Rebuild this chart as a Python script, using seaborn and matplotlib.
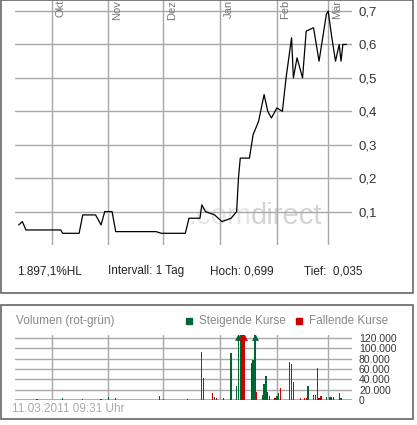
import numpy as np
import pandas as pd
import matplotlib
matplotlib.use('Agg')
import matplotlib.pyplot as plt
import matplotlib.dates as mdates
from matplotlib.patches import Rectangle
import seaborn as sns

sns.set_style('white')
plt.rcParams['font.family'] = ['Liberation Sans', 'DejaVu Sans']

# price series
price_dates = ['2010-09-13', '2010-09-15', '2010-09-17', '2010-10-06', '2010-10-07', '2010-10-16',
               '2010-10-18', '2010-10-25', '2010-10-28', '2010-10-30', '2010-11-03', '2010-11-05',
               '2010-11-27', '2010-11-30', '2010-12-13', '2010-12-15', '2010-12-21', '2010-12-22',
               '2010-12-24', '2010-12-29', '2011-01-02', '2011-01-07', '2011-01-10', '2011-01-11',
               '2011-01-12', '2011-01-17', '2011-01-19', '2011-01-22', '2011-01-25', '2011-01-27',
               '2011-01-29', '2011-02-01', '2011-02-04', '2011-02-06', '2011-02-09', '2011-02-10',
               '2011-02-12', '2011-02-15', '2011-02-17', '2011-02-21', '2011-02-24', '2011-02-28',
               '2011-03-01', '2011-03-03', '2011-03-05', '2011-03-07', '2011-03-08', '2011-03-09',
               '2011-03-11']
price_vals = [0.06, 0.07, 0.045, 0.045, 0.035, 0.035,
              0.09, 0.09, 0.06, 0.10, 0.10, 0.04,
              0.04, 0.035, 0.035, 0.08, 0.08, 0.12,
              0.10, 0.09, 0.07, 0.08, 0.10, 0.20,
              0.26, 0.26, 0.33, 0.37, 0.45, 0.40,
              0.38, 0.41, 0.40, 0.50, 0.62, 0.50,
              0.56, 0.50, 0.64, 0.65, 0.55, 0.69,
              0.70, 0.62, 0.55, 0.60, 0.55, 0.60,
              0.60]

# volume series (+1 rising, -1 falling)
vol_dates = ['2010-09-23', '2010-10-07', '2010-10-18', '2010-10-28', '2010-11-01', '2010-11-05',
             '2010-11-29', '2010-12-01', '2010-12-14', '2010-12-22', '2010-12-23', '2010-12-28',
             '2010-12-29', '2010-12-30', '2011-01-03', '2011-01-07', '2011-01-10', '2011-01-11',
             '2011-01-12', '2011-01-13', '2011-01-14', '2011-01-18', '2011-01-19', '2011-01-20',
             '2011-01-21', '2011-01-24', '2011-01-25', '2011-01-26', '2011-01-27', '2011-01-28',
             '2011-01-31', '2011-02-01', '2011-02-02', '2011-02-03', '2011-02-08', '2011-02-09',
             '2011-02-10', '2011-02-14', '2011-02-16', '2011-02-17', '2011-02-18', '2011-02-21',
             '2011-02-22', '2011-02-23', '2011-02-24', '2011-02-25', '2011-02-28', '2011-03-02',
             '2011-03-03', '2011-03-04', '2011-03-07', '2011-03-08']
vol_vals = [1000, 3000, 2000, 1500, 6000, 3000,
            8000, 1000, 1000, 92000, 42000, 14000,
            6000, 4000, 3000, 90000, 28000, 200000,
            200000, 200000, 200000, 72000, 78000, 200000,
            16000, 10000, 30000, 46000, 16000, 8000,
            4000, 8000, 14000, 23000, 73000, 70000,
            34000, 3000, 3000, 3000, 27000, 10000,
            10000, 62000, 3000, 8000, 5000, 6000,
            5000, 5000, 14000, 3000]
vol_dir = [-1, 1, 1, -1, 1, -1,
           -1, 1, 1, 1, -1, -1,
           1, -1, -1, 1, 1, 1,
           1, -1, -1, -1, 1, 1,
           -1, 1, 1, 1, -1, -1,
           -1, 1, 1, -1, 1, 1,
           -1, -1, -1, -1, 1, 1,
           1, 1, -1, -1, 1, 1,
           -1, -1, 1, 1]

months = ['2010-10-01', '2010-11-01', '2010-12-01', '2011-01-01', '2011-02-01', '2011-03-01']
month_labels = ['Okt', 'Nov', 'Dez', 'Jan', 'Feb', 'Mär']
price_ticks = [0.1, 0.2, 0.3, 0.4, 0.5, 0.6, 0.7]
vol_ticks = [0, 20000, 40000, 60000, 80000, 100000, 120000]

GREEN = '#006633'
RED = '#cc0000'
GRID = '#a8a8a8'
TXT = '#333333'

W, H = 417, 425
fig = plt.figure(figsize=(W / 100, H / 100), dpi=100)

def px_axes(x0, y0, x1, y1):
    return fig.add_axes([x0 / W, 1 - y1 / H, (x1 - x0) / W, (y1 - y0) / H])

# frames
for (x0, y0, x1, y1) in [(1, 0, 413, 293), (1, 305, 413, 419)]:
    fig.patches.append(Rectangle((x0 / W, 1 - y1 / H), (x1 - x0) / W, (y1 - y0) / H,
                                 transform=fig.transFigure, fill=False, ec='#666666', lw=1.2))

pdf = pd.DataFrame({'date': pd.to_datetime(price_dates), 'price': price_vals})
mdt = pd.to_datetime(months)
xmin, xmax = pd.Timestamp('2010-09-11'), pd.Timestamp('2011-03-14')

ax = px_axes(15, 0, 352, 245)
ax.set_xlim(xmin, xmax)
ax.set_ylim(0, 0.733)
sns.lineplot(data=pdf, x='date', y='price', color='black', lw=0.9, ax=ax)
ax.set_yticks(price_ticks)
ax.set_yticklabels([f'{t:.1f}'.replace('.', ',') for t in price_ticks])
ax.yaxis.tick_right()
ax.tick_params(axis='y', length=0, labelsize=9.5, colors=TXT, pad=5)
ax.set_xticks(mdt)
ax.set_xticklabels([])
ax.tick_params(axis='x', length=0)
ax.grid(True, color=GRID, lw=1)
for s in ax.spines.values():
    s.set_visible(False)
ax.set_xlabel('')
ax.set_ylabel('')
for d, lab in zip(mdt, month_labels):
    ax.text(d + pd.Timedelta(days=2), 0.733, lab, rotation=90, va='top', ha='left',
            fontsize=8, color='#777777')
ax.text(0.70, 0.085, '.com', transform=ax.transAxes, fontsize=21, color='#e6e6e6', ha='right', zorder=0)
ax.text(0.70, 0.085, 'direct', transform=ax.transAxes, fontsize=21, color='#d4d4d4', ha='left', zorder=0)

for x, s in [(17, '1.897,1%HL'), (108, 'Intervall: 1 Tag'), (210, 'Hoch: 0,699'), (304, 'Tief:  0,035')]:
    fig.text(x / W, 1 - 271 / H, s, fontsize=8.5, color='#222222', va='center')

# volume panel
vdf = pd.DataFrame({'date': pd.to_datetime(vol_dates), 'vol': vol_vals, 'dir': vol_dir})
bx = px_axes(15, 338 - 3.2, 352, 400)
bx.set_xlim(mdates.date2num(xmin), mdates.date2num(xmax))
bx.set_ylim(0, 126000)
for sign, col in [(1, GREEN), (-1, RED)]:
    sub = vdf[vdf['dir'] == sign]
    xs = mdates.date2num(sub['date'])
    bx.bar(xs, np.minimum(sub['vol'], 126000), width=0.7, color=col, lw=0, zorder=3)
    big = sub[sub['vol'] > 120000]
    bx.scatter(mdates.date2num(big['date']), [121000] * len(big), marker='^', s=24,
               color=col, lw=0, zorder=4)
bx.set_yticks(vol_ticks)
bx.set_yticklabels([f'{t:,}'.replace(',', '.') for t in vol_ticks])
bx.yaxis.tick_right()
bx.tick_params(axis='y', length=0, labelsize=7.5, colors=TXT, pad=5)
bx.set_xticks(mdates.date2num(mdt))
bx.set_xticklabels([])
bx.tick_params(axis='x', length=0)
bx.grid(True, color=GRID, lw=1)
for s in bx.spines.values():
    s.set_visible(False)
bx.axhline(0, color=GRID, lw=2, zorder=2)

fig.text(16 / W, 1 - 321 / H, 'Volumen (rot-grün)', fontsize=8.5, color='#888888', va='center')
fig.patches.append(Rectangle((186 / W, 1 - 324 / H), 6 / W, 6 / H, transform=fig.transFigure, color=GREEN))
fig.text(199 / W, 1 - 321 / H, 'Steigende Kurse', fontsize=8.5, color='#888888', va='center')
fig.patches.append(Rectangle((296 / W, 1 - 324 / H), 6 / W, 6 / H, transform=fig.transFigure, color=RED))
fig.text(309 / W, 1 - 321 / H, 'Fallende Kurse', fontsize=8.5, color='#888888', va='center')
fig.text(12 / W, 1 - 409 / H, '11.03.2011 09:31 Uhr', fontsize=8.5, color='#aaaaaa', va='center')

fig.savefig('out.png', dpi=100)
